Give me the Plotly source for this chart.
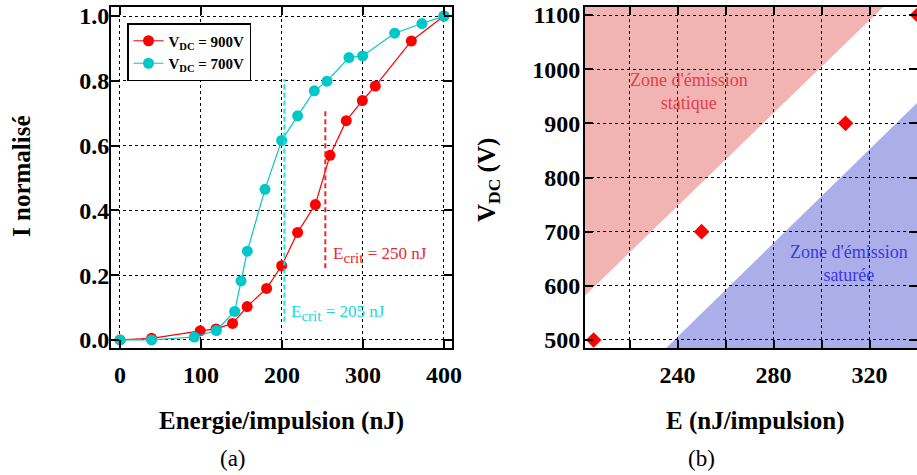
import plotly.graph_objects as go

# ---- Data: panel (a) ----
E_900 = [0, 39, 99, 118.5, 139, 157, 181, 199.6, 219.3, 241.2, 259.3, 279.4, 299.2, 315.2, 359.7, 400]
I_900 = [0.0, 0.005, 0.028, 0.034, 0.051, 0.103, 0.159, 0.229, 0.332, 0.418, 0.570, 0.677, 0.739, 0.784, 0.923, 1.0]
E_700 = [0, 39, 91.8, 118.9, 141.6, 149.4, 157.2, 179, 199.6, 219.3, 239.9, 255.6, 282.7, 299.6, 339.1, 372.8, 400]
I_700 = [0.0, 0.0, 0.009, 0.029, 0.088, 0.182, 0.274, 0.465, 0.616, 0.692, 0.769, 0.799, 0.872, 0.877, 0.947, 0.977, 1.0]
crit_900_E = [253.5, 253.5]
crit_900_I = [0.221, 0.71]
crit_700_E = [203, 203]
crit_700_I = [0.057, 0.805]
names = ["<b>V<sub>DC</sub> = 900V</b>", "<b>V<sub>DC</sub> = 700V</b>"]
a_xticks = [0, 100, 200, 300, 400]
a_yticks = [0.0, 0.2, 0.4, 0.6, 0.8, 1.0]

# ---- Data: panel (b) ----
E_pts = [205, 250, 310, 340]
V_pts = [500, 700, 900, 1100]
static_zone_E = [190, 340, 190]
static_zone_V = [533, 1176, 1176]
sat_zone_E = [225, 360, 360]
sat_zone_V = [441, 1025, 441]
b_xticks = [220, 240, 260, 280, 300, 320, 340]
b_xticktext = ["", "240", "", "280", "", "320", ""]
b_yticks = [500, 600, 700, 800, 900, 1000, 1100]

FONT = "Liberation Serif"
RED = "#ff0000"
CYAN = "#00c8c8"

fig = go.Figure()

fig.add_trace(go.Scatter(x=E_900, y=I_900, mode="lines+markers", name=names[0],
                         line=dict(color=RED, width=1.2),
                         marker=dict(color=RED, size=11), xaxis="x", yaxis="y"))
fig.add_trace(go.Scatter(x=E_700, y=I_700, mode="lines+markers", name=names[1],
                         line=dict(color=CYAN, width=1.2),
                         marker=dict(color=CYAN, size=11), xaxis="x", yaxis="y"))
fig.add_trace(go.Scatter(x=crit_900_E, y=crit_900_I, mode="lines", showlegend=False,
                         line=dict(color="#e8282e", width=2, dash="5px,3px"), xaxis="x", yaxis="y"))
fig.add_trace(go.Scatter(x=crit_700_E, y=crit_700_I, mode="lines", showlegend=False,
                         line=dict(color="#19e3e3", width=2, dash="5px,3px"), xaxis="x", yaxis="y"))

fig.add_trace(go.Scatter(x=E_pts, y=V_pts, mode="markers", showlegend=False,
                         marker=dict(color=RED, size=12, symbol="diamond"),
                         xaxis="x2", yaxis="y2"))

def path_from(xs, ys):
    return "M " + " L ".join(f"{x},{y}" for x, y in zip(xs, ys)) + " Z"

shapes = [
    dict(type="path", path=path_from(static_zone_E, static_zone_V), xref="x2", yref="y2",
         fillcolor="#f2b3b3", line=dict(width=0), layer="below"),
    dict(type="path", path=path_from(sat_zone_E, sat_zone_V), xref="x2", yref="y2",
         fillcolor="#acaeea", line=dict(width=0), layer="below"),
]

W, H = 917, 475
def fx(px):
    return px / W
def fy(py):
    return 1 - py / H

axis_common = dict(
    showline=True, linecolor="black", linewidth=2, mirror="allticks",
    ticks="inside", ticklen=8, tickwidth=1.5, tickcolor="black",
    showgrid=True, gridcolor="black", gridwidth=0.8, griddash="dot",
    zeroline=False, automargin=False,
    tickfont=dict(family=FONT, size=24, color="black", weight="bold"),
)

fig.update_layout(
    width=W, height=H,
    margin=dict(l=0, r=0, t=0, b=0),
    paper_bgcolor="white", plot_bgcolor="white",
    font=dict(family=FONT, color="black"),
    shapes=shapes,
    xaxis=dict(domain=[fx(111), fx(452)], range=[-11.1, 409.9], tickvals=a_xticks,
               anchor="y", ticklabelstandoff=4, **axis_common),
    yaxis=dict(domain=[fy(348), fy(7)], range=[-0.025, 1.028], tickvals=a_yticks,
               tickformat=".1f", anchor="x", ticklabelstandoff=-5, **axis_common),
    xaxis2=dict(domain=[fx(585), 1.0], range=[201.4, 339.8], tickvals=b_xticks,
                ticktext=b_xticktext, anchor="y2", ticklabelstandoff=4, **axis_common),
    yaxis2=dict(domain=[fy(348), fy(7)], range=[485.2, 1114.8], tickvals=b_yticks,
                anchor="x2", ticklabelstandoff=-2, **axis_common),
    legend=dict(x=fx(127), y=fy(23), xanchor="left", yanchor="top",
                bgcolor="white", bordercolor="black", borderwidth=1.5,
                font=dict(family=FONT, size=15, color="black"),
                itemwidth=30, tracegroupgap=0),
)

ann = [
    dict(text="<b>I normalisé</b>", x=fx(21), y=fy(176), textangle=-90, font=dict(size=25)),
    dict(text="<b>Energie/impulsion (nJ)</b>", x=fx(281.5), y=fy(421), font=dict(size=25)),
    dict(text="(a)", x=fx(233), y=fy(458), font=dict(size=23)),
    dict(text="<b>V<sub>DC</sub> (V)</b>", x=fx(488), y=fy(180), textangle=-90, font=dict(size=25)),
    dict(text="<b>E (nJ/impulsion)</b>", x=fx(755.5), y=fy(421), font=dict(size=25)),
    dict(text="(b)", x=fx(701.5), y=fy(458), font=dict(size=23)),
]
for a in ann:
    a.update(xref="paper", yref="paper", showarrow=False, xanchor="center", yanchor="middle")
    a["font"].update(family=FONT, color="black")
    fig.add_annotation(**a)

sub_crit = "E<sub><span style='font-size:15px'>crit</span></sub>"
fig.add_annotation(text=sub_crit + " = 250 nJ", x=260, y=0.262, xref="x", yref="y",
                   xanchor="left", yanchor="middle", showarrow=False,
                   font=dict(family=FONT, size=17, color="#e8282e"))
fig.add_annotation(text=sub_crit + " = 205 nJ", x=209, y=0.083, xref="x", yref="y",
                   xanchor="left", yanchor="middle", showarrow=False,
                   font=dict(family=FONT, size=17, color="#19d8d8"))
fig.add_annotation(text="Zone d'émission<br>statique", x=244.7, y=958, xref="x2", yref="y2",
                   showarrow=False, font=dict(family=FONT, size=18, color="#e0404a"))
fig.add_annotation(text="Zone d'émission<br>saturée", x=311.3, y=642, xref="x2", yref="y2",
                   showarrow=False, font=dict(family=FONT, size=18, color="#3a3adf"))

fig.write_html("out.html", config={"displayModeBar": False},
               post_script="document.body.style.margin='0';document.body.style.overflow='hidden';")
